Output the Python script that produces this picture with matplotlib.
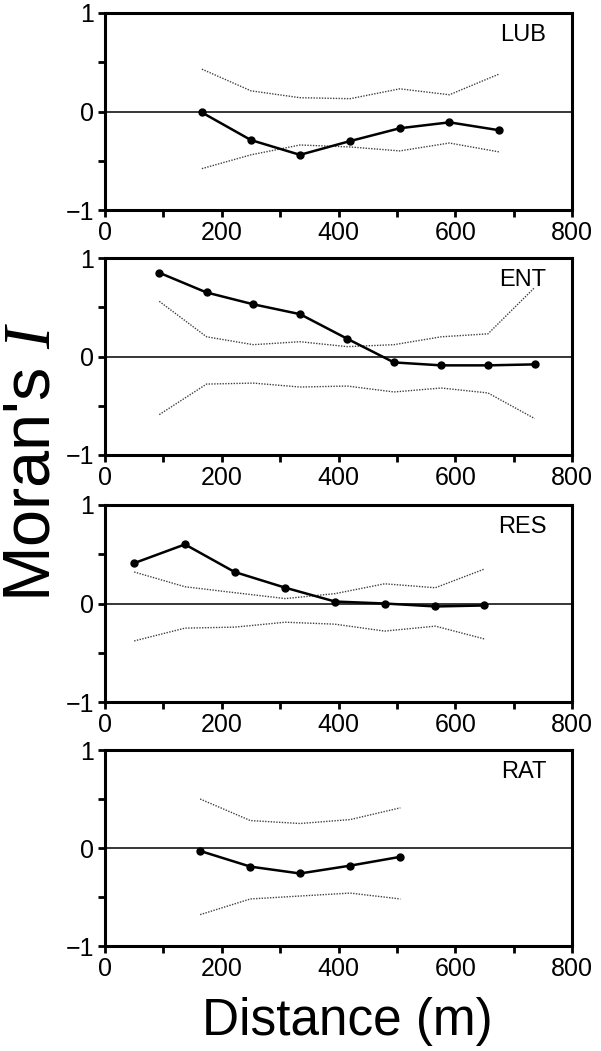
import matplotlib.pyplot as plt

plt.rcParams['font.family'] = ['Liberation Sans', 'DejaVu Sans']
plt.rcParams['mathtext.fontset'] = 'custom'
plt.rcParams['mathtext.it'] = 'Liberation Serif:italic'
plt.rcParams['mathtext.rm'] = 'Liberation Sans'

# Moran's I correlograms
lub_dist = [166, 250, 334, 420, 505, 590, 675]
lub_i = [-0.01, -0.29, -0.44, -0.30, -0.17, -0.11, -0.19]
lub_hi = [0.43, 0.21, 0.14, 0.13, 0.23, 0.17, 0.38]
lub_lo = [-0.58, -0.44, -0.34, -0.36, -0.40, -0.32, -0.41]

ent_dist = [93, 174, 254, 334, 415, 495, 576, 656, 736]
ent_i = [0.85, 0.65, 0.53, 0.43, 0.18, -0.06, -0.09, -0.09, -0.08]
ent_hi = [0.56, 0.20, 0.12, 0.15, 0.10, 0.12, 0.20, 0.23, 0.70]
ent_lo = [-0.59, -0.28, -0.27, -0.31, -0.30, -0.36, -0.32, -0.37, -0.63]

res_dist = [50, 137, 222, 309, 394, 479, 566, 650]
res_i = [0.41, 0.60, 0.32, 0.16, 0.02, 0.00, -0.03, -0.02]
res_hi = [0.32, 0.17, 0.11, 0.05, 0.10, 0.20, 0.16, 0.35]
res_lo = [-0.38, -0.25, -0.24, -0.19, -0.21, -0.28, -0.23, -0.36]

rat_dist = [163, 249, 334, 420, 506]
rat_i = [-0.03, -0.19, -0.26, -0.18, -0.09]
rat_hi = [0.50, 0.28, 0.25, 0.29, 0.41]
rat_lo = [-0.68, -0.52, -0.49, -0.46, -0.52]

panels = [
    ('LUB', lub_dist, lub_i, lub_hi, lub_lo),
    ('ENT', ent_dist, ent_i, ent_hi, ent_lo),
    ('RES', res_dist, res_i, res_hi, res_lo),
    ('RAT', rat_dist, rat_i, rat_hi, rat_lo),
]

W, H = 601, 1051
fig = plt.figure(figsize=(W / 100, H / 100), dpi=100)

# pixel boxes (top, bottom) of each panel
boxes = [(13, 210), (258, 455), (505, 702), (750, 946)]
left, right = 105, 572

for (name, d, mi, hi, lo), (top, bot) in zip(panels, boxes):
    ax = fig.add_axes([left / W, 1 - bot / H, (right - left) / W, (bot - top) / H])
    ax.axhline(0, color='black', lw=1.1, zorder=1)
    ax.plot(d, hi, color='0.25', lw=1.0, ls=(0, (1, 1)), zorder=2)
    ax.plot(d, lo, color='0.25', lw=1.0, ls=(0, (1, 1)), zorder=2)
    ax.plot(d, mi, color='black', lw=1.8, marker='o', ms=5, zorder=3)
    ax.set_xlim(0, 800)
    ax.set_ylim(-1, 1)
    ax.set_xticks(range(0, 801, 100))
    ax.set_xticklabels([str(v) if v % 200 == 0 else '' for v in range(0, 801, 100)])
    ax.set_yticks([-1, -0.5, 0, 0.5, 1])
    ax.set_yticklabels(['\u22121', '', '0', '', '1'])
    ax.tick_params(direction='out', length=5, width=2, labelsize=18, pad=3)
    for s in ax.spines.values():
        s.set_linewidth(2.2)
    ax.text(0.945, 0.89, name, transform=ax.transAxes, ha='right', va='center',
            fontsize=17)

fig.text(33 / W, 1 - 462 / H, "Moran's $I$", rotation=90, ha='center', va='center',
         fontsize=48)
fig.text(347 / W, 1 - 1035 / H, 'Distance (m)', ha='center', va='baseline',
         fontsize=37)

fig.savefig('out.png', dpi=100)
